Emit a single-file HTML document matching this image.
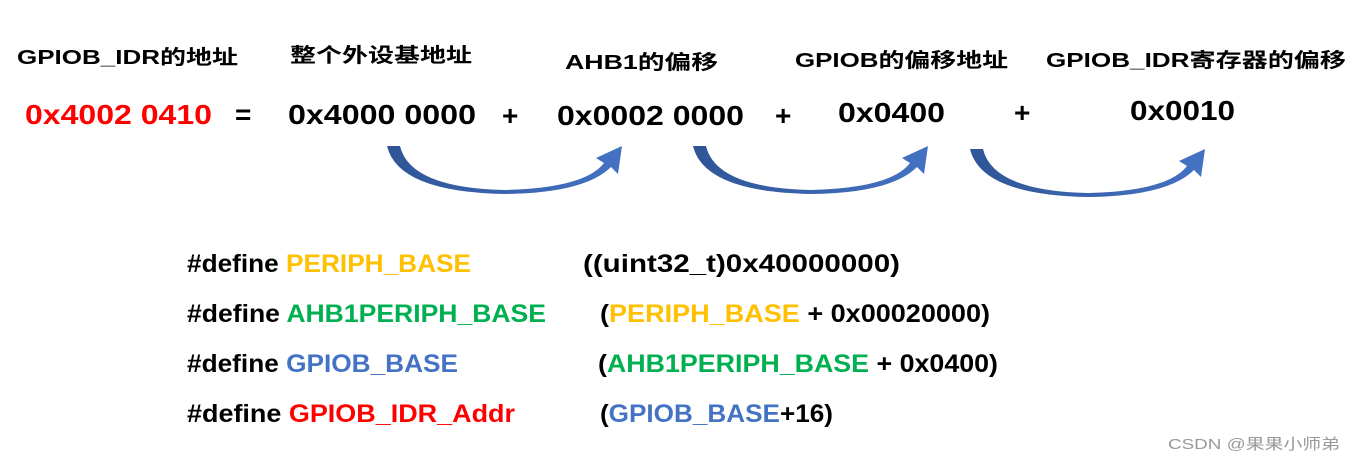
<!DOCTYPE html>
<html><head><meta charset="utf-8"><style>
html,body{margin:0;padding:0;background:#fff;width:1350px;height:464px;overflow:hidden}
text{font-family:"Liberation Sans","Noto Sans CJK SC",sans-serif;font-weight:bold}
</style></head><body>
<svg width="1350" height="464" viewBox="0 0 1350 464" xmlns="http://www.w3.org/2000/svg">
<defs>
<linearGradient id="g" x1="0" x2="1" y1="0" y2="0"><stop offset="0" stop-color="#2f5597"/><stop offset="1" stop-color="#4472c4"/></linearGradient>
<path id="arr" d="M387,146 L400,146 Q410,188 505,190 Q585,188 604,163 L596,158 L622,146 L618,174 L611,167 Q585,193 505,194 Q398,192 387,146 Z" fill="url(#g)"/>
</defs>
<use href="#arr"/>
<use href="#arr" transform="translate(306,0)"/>
<use href="#arr" transform="translate(583,3)"/>
<g font-size="20" fill="#000">
<text x="17" y="64" textLength="221" lengthAdjust="spacingAndGlyphs">GPIOB_IDR的地址</text>
<text x="290" y="62" textLength="182" lengthAdjust="spacingAndGlyphs">整个外设基地址</text>
<text x="565" y="69" textLength="153" lengthAdjust="spacingAndGlyphs">AHB1的偏移</text>
<text x="795" y="67" textLength="213" lengthAdjust="spacingAndGlyphs">GPIOB的偏移地址</text>
<text x="1046" y="67" textLength="300" lengthAdjust="spacingAndGlyphs">GPIOB_IDR寄存器的偏移</text>
</g>
<g font-size="28" fill="#000">
<text x="25" y="124" fill="#ff0000" textLength="187" lengthAdjust="spacingAndGlyphs">0x4002 0410</text>
<text x="235" y="124">=</text>
<text x="288" y="124" textLength="188" lengthAdjust="spacingAndGlyphs">0x4000 0000</text>
<text x="502" y="125">+</text>
<text x="557" y="125" textLength="187" lengthAdjust="spacingAndGlyphs">0x0002 0000</text>
<text x="775" y="125">+</text>
<text x="838" y="122" textLength="107" lengthAdjust="spacingAndGlyphs">0x0400</text>
<text x="1014" y="122">+</text>
<text x="1130" y="120" textLength="105" lengthAdjust="spacingAndGlyphs">0x0010</text>
</g>
<g font-size="25" fill="#000">
<text x="187" y="272" textLength="284" lengthAdjust="spacingAndGlyphs">#define <tspan fill="#ffc000">PERIPH_BASE</tspan></text>
<text x="583" y="272" textLength="317" lengthAdjust="spacingAndGlyphs">((uint32_t)0x40000000)</text>
<text x="187" y="322" textLength="359" lengthAdjust="spacingAndGlyphs">#define <tspan fill="#00b050">AHB1PERIPH_BASE</tspan></text>
<text x="600" y="322" textLength="390" lengthAdjust="spacingAndGlyphs">(<tspan fill="#ffc000">PERIPH_BASE</tspan> + 0x00020000)</text>
<text x="187" y="372" textLength="271" lengthAdjust="spacingAndGlyphs">#define <tspan fill="#4472c4">GPIOB_BASE</tspan></text>
<text x="598" y="372" textLength="400" lengthAdjust="spacingAndGlyphs">(<tspan fill="#00b050">AHB1PERIPH_BASE</tspan> + 0x0400)</text>
<text x="187" y="422" textLength="328" lengthAdjust="spacingAndGlyphs">#define <tspan fill="#ff0000">GPIOB_IDR_Addr</tspan></text>
<text x="600" y="422" textLength="233" lengthAdjust="spacingAndGlyphs">(<tspan fill="#4472c4">GPIOB_BASE</tspan>+16)</text>
</g>
<text x="1168" y="449" font-size="15" fill="#999" style="font-weight:normal" textLength="172" lengthAdjust="spacingAndGlyphs">CSDN @果果小师弟</text>
</svg>
</body></html>
